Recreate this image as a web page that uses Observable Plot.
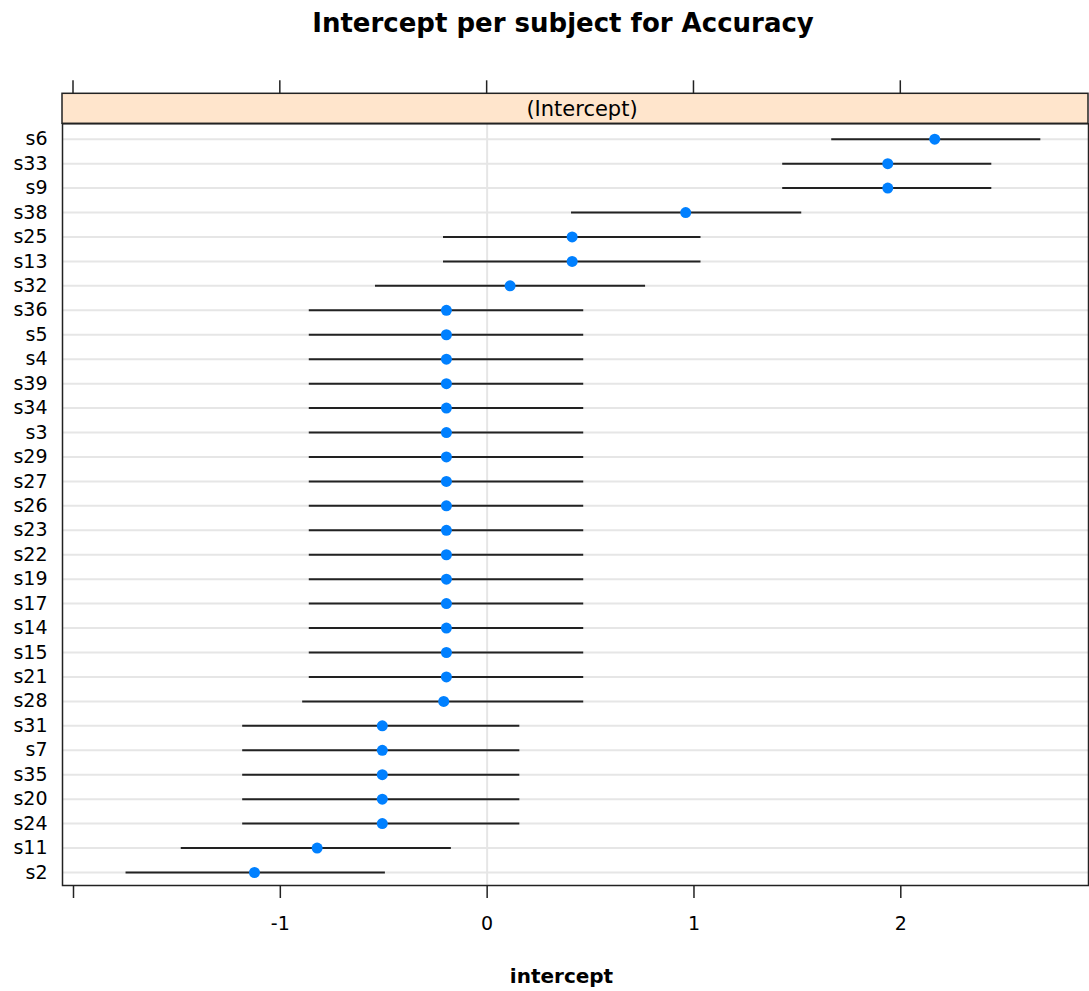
<!DOCTYPE html>
<html>
<head>
<meta charset="utf-8">
<script src="https://cdn.jsdelivr.net/npm/d3@7"></script>
<script src="https://cdn.jsdelivr.net/npm/@observablehq/plot@0.6"></script>
<style>
  html, body { margin: 0; padding: 0; background: #fff; }
  #wrap { position: relative; width: 1089px; height: 991px; overflow: hidden; }
  #title { position: absolute; left: 0; top: 0; width: 1126px; height: 50px; line-height: 46px;
           text-align: center; font-family: "DejaVu Sans", sans-serif; font-weight: bold; font-size: 26px; color: #000; }
  #chart { position: absolute; left: 0; top: 50px; }
</style>
</head>
<body>
<div id="wrap">
  <div id="title">Intercept per subject for Accuracy</div>
  <div id="chart"></div>
</div>
<script>
// Subjects, top to bottom
const subjects = ["s6","s33","s9","s38","s25","s13","s32","s36","s5","s4","s39","s34","s3","s29","s27","s26",
  "s23","s22","s19","s17","s14","s15","s21","s28","s31","s7","s35","s20","s24","s11","s2"];
// Intercept estimates
const estimate = [2.164,1.937,1.937,0.960,0.411,0.411,0.111,-0.197,-0.197,-0.197,-0.197,-0.197,-0.197,-0.197,-0.197,-0.197,
  -0.197,-0.197,-0.197,-0.197,-0.197,-0.197,-0.197,-0.210,-0.507,-0.507,-0.507,-0.507,-0.507,-0.822,-1.125];
// Lower interval bounds
const lower = [1.666,1.429,1.429,0.408,-0.211,-0.211,-0.540,-0.860,-0.860,-0.860,-0.860,-0.860,-0.860,-0.860,-0.860,-0.860,
  -0.860,-0.860,-0.860,-0.860,-0.860,-0.860,-0.860,-0.892,-1.182,-1.182,-1.182,-1.182,-1.182,-1.479,-1.746];
// Upper interval bounds
const upper = [2.677,2.440,2.440,1.521,1.034,1.034,0.766,0.467,0.467,0.467,0.467,0.467,0.467,0.467,0.467,0.467,
  0.467,0.467,0.467,0.467,0.467,0.467,0.467,0.467,0.158,0.158,0.158,0.158,0.158,-0.173,-0.492];
const xTicks = [-2, -1, 0, 1, 2];
const stripLabel = "(Intercept)";
const xLabel = "intercept";

const data = subjects.map((s, i) => ({subject: s, est: estimate[i], lo: lower[i], hi: upper[i]}));

const W = 1089, H = 941;
const mTop = 73.3, mBottom = 106, mLeft = 62, mRight = 1;

const plot = Plot.plot({
  width: W,
  height: H,
  marginTop: mTop,
  marginBottom: mBottom,
  marginLeft: mLeft,
  marginRight: mRight,
  style: {fontFamily: "DejaVu Sans, sans-serif", background: "#fff", color: "#000"},
  x: {domain: [-2, 2], range: [73, 900.3]},
  y: {type: "point", domain: subjects, range: [88.7, 822], padding: 0, round: false},
  marks: [
    Plot.gridY({stroke: "#e6e6e6", strokeOpacity: 1, strokeWidth: 2}),
    Plot.ruleX([0], {stroke: "#e6e6e6", strokeOpacity: 1, strokeWidth: 2}),
    Plot.ruleY(data, {y: "subject", x1: "lo", x2: "hi", stroke: "#222", strokeWidth: 2}),
    Plot.dot(data, {x: "est", y: "subject", r: 5.5, fill: "#0080ff", stroke: null}),
    Plot.axisY({tickSize: 0, tickPadding: 15, fontSize: 19, label: null}),
    Plot.axisX({anchor: "bottom", ticks: xTicks, tickFormat: d => d === -2 ? "" : String(d),
      tickSize: 13, tickPadding: 18, fontSize: 19, label: null, stroke: "#222", strokeWidth: 1.5}),
    Plot.frame({stroke: "#222", strokeWidth: 1.5})
  ]
});

document.getElementById("chart").appendChild(plot);

const svg = d3.select(plot);
const x = plot.scale("x");
// Strip
const sTop = 43.3, sBot = mTop;
svg.append("rect")
  .attr("x", mLeft).attr("y", sTop)
  .attr("width", W - mRight - mLeft).attr("height", sBot - sTop)
  .attr("fill", "#ffe5cc").attr("stroke", "#222").attr("stroke-width", 1.5);
svg.append("text")
  .attr("x", 582).attr("y", (sTop + sBot) / 2 + 1)
  .attr("text-anchor", "middle").attr("dominant-baseline", "central")
  .attr("font-family", "DejaVu Sans, sans-serif").attr("font-size", 21)
  .attr("fill", "#000").text(stripLabel);
// Top ticks
svg.append("g").selectAll("line").data(xTicks).join("line")
  .attr("x1", d => x.apply(d)).attr("x2", d => x.apply(d))
  .attr("y1", sTop - 13).attr("y2", sTop)
  .attr("stroke", "#222").attr("stroke-width", 1.5);
// X label
svg.append("text")
  .attr("x", 561.5).attr("y", 926)
  .attr("text-anchor", "middle").attr("dominant-baseline", "central")
  .attr("font-family", "DejaVu Sans, sans-serif").attr("font-weight", "bold").attr("font-size", 20)
  .attr("fill", "#000").text(xLabel);
</script>
</body>
</html>
